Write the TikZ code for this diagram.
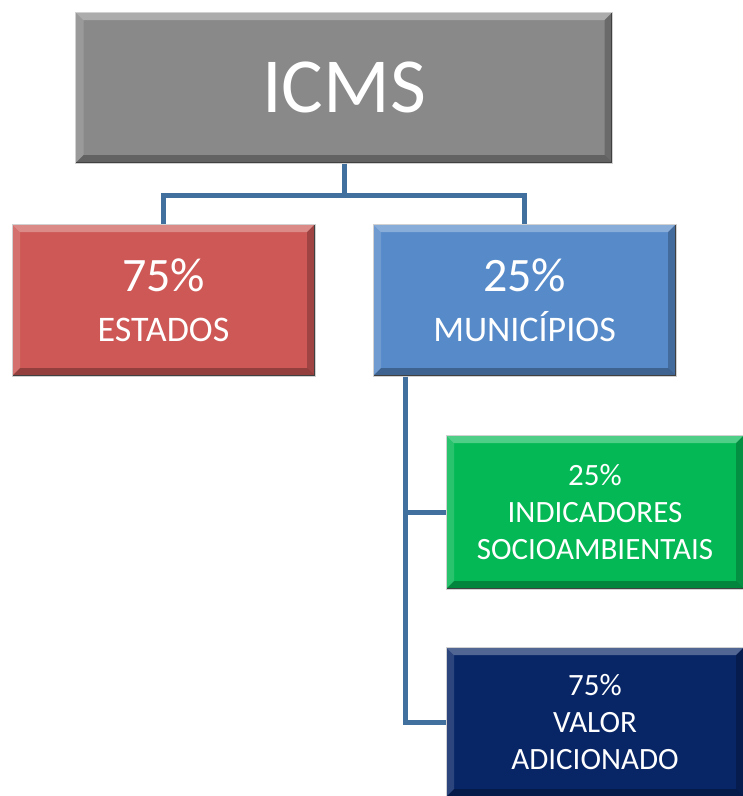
\documentclass[tikz,border=0pt]{standalone}
\usepackage{fontspec}
\setmainfont{Carlito}
\usetikzlibrary{calc}
\definecolor{icmsGray}{HTML}{898989}
\definecolor{estadosRed}{HTML}{CD5855}
\definecolor{municBlue}{HTML}{568AC9}
\definecolor{indicGreen}{HTML}{04B955}
\definecolor{valorNavy}{HTML}{082566}
\definecolor{linkBlue}{HTML}{41709F}

\begin{document}
\begin{tikzpicture}[
    x=1pt, y=-1pt,
    box/.style={
        rectangle,
        draw=black!18,
        line width=1pt,
        inner sep=0pt,
        align=center,
        text=white,
        path picture={
            \coordinate (bnw) at (path picture bounding box.north west);
            \coordinate (bne) at (path picture bounding box.north east);
            \coordinate (bsw) at (path picture bounding box.south west);
            \coordinate (bse) at (path picture bounding box.south east);
            \fill[white, opacity=0.30] (bnw) -- (bne) -- ([xshift=-8pt,yshift=-8pt]bne) -- ([xshift=8pt,yshift=-8pt]bnw) -- cycle;
            \fill[white, opacity=0.15] (bnw) -- (bsw) -- ([xshift=8pt,yshift=8pt]bsw) -- ([xshift=8pt,yshift=-8pt]bnw) -- cycle;
            \fill[black, opacity=0.22] (bne) -- (bse) -- ([xshift=-8pt,yshift=8pt]bse) -- ([xshift=-8pt,yshift=-8pt]bne) -- cycle;
            \fill[black, opacity=0.28] (bsw) -- (bse) -- ([xshift=-8pt,yshift=8pt]bse) -- ([xshift=8pt,yshift=8pt]bsw) -- cycle;
            \draw[black!75, line width=2.5pt] (bne) -- (bse) -- (bsw);
        }
    },
    link/.style={
        draw=linkBlue,
        line width=5pt
    }
]
\useasboundingbox (0,0) rectangle (743,796);

% Top box
\node[box, fill=icmsGray, minimum width=537, minimum height=151,
      font=\fontsize{78}{80}\selectfont] (icms) at (344,87.5) {ICMS};

% Second level
\node[box, fill=estadosRed, minimum width=303, minimum height=152,
      font=\fontsize{36}{50}\selectfont] (estados) at (163.5,300) {
{\fontsize{48}{50}\selectfont 75\%}\\
ESTADOS
};

\node[box, fill=municBlue, minimum width=303, minimum height=152,
      font=\fontsize{36}{50}\selectfont] (munic) at (524.5,300) {
{\fontsize{48}{50}\selectfont 25\%}\\
MUNICÍPIOS
};

% Third level, under the municipalities
\node[box, fill=indicGreen, minimum width=298, minimum height=154,
      font=\fontsize{31}{37}\selectfont] (indic) at (595,512) {
25\%\\
INDICADORES\\
SOCIOAMBIENTAIS
};

\node[box, fill=valorNavy, minimum width=298, minimum height=150,
      font=\fontsize{31}{37}\selectfont] (valor) at (595,722) {
75\%\\
VALOR\\
ADICIONADO
};

% Connectors
\draw[link] (icms.south) -- ++(0,32) -| (estados.north);
\draw[link] (icms.south) -- ++(0,32) -| (munic.north);
\draw[link] ($(munic.south west)+(33,0)$) |- (indic.west);
\draw[link] ($(munic.south west)+(33,0)$) |- (valor.west);

\end{tikzpicture}
\end{document}
